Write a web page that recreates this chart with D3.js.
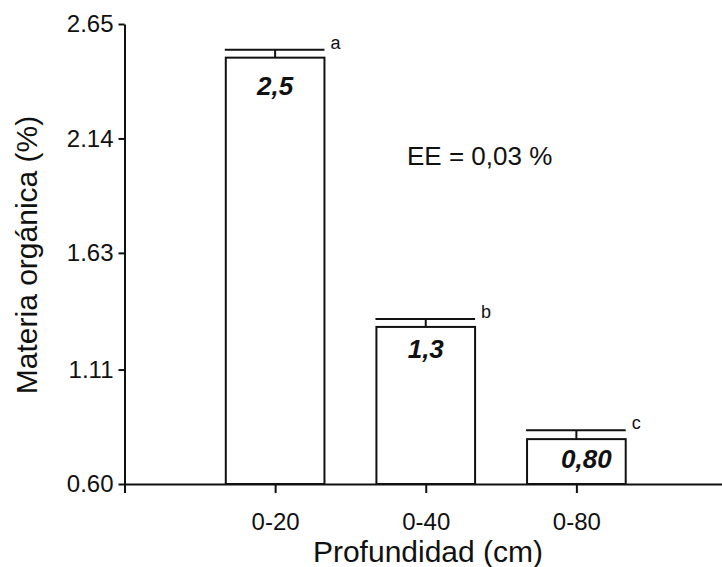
<!doctype html>
<html>
<head>
<meta charset="utf-8">
<script src="https://d3js.org/d3.v7.min.js"></script>
<style>
  body { margin: 0; background: #fff; }
  text { font-family: "Liberation Sans", Arial, sans-serif; fill: #111; }
</style>
</head>
<body>
<div id="chart"></div>
<script>
// data
var categories = ["0-20", "0-40", "0-80"];
var values = [2.5, 1.3, 0.80];
var errors = [0.035, 0.035, 0.04];
var valueLabels = ["2,5", "1,3", "0,80"];
var letters = ["a", "b", "c"];
var yTicks = [0.60, 1.11, 1.63, 2.14, 2.65];

var width = 722, height = 567;

var svg = d3.select("#chart").append("svg")
    .attr("width", width)
    .attr("height", height);

// x is a plain linear scale, categories sit at 1,2,3
var x = d3.scaleLinear().domain([0, 4]).range([124.5, 727]);
var y = d3.scaleLinear().domain([0.60, 2.65]).range([484, 24]);
var barW = x(0.655) - x(0);

// y axis
var yAxis = svg.append("g")
    .attr("transform", "translate(" + x(0) + ",0)")
    .call(d3.axisLeft(y).tickValues(yTicks).tickFormat(d3.format(".2f")).tickSize(6).tickSizeOuter(0));
yAxis.selectAll("text").style("font-size", "24px").attr("x", -11);

// x axis
var xAxis = svg.append("g")
    .attr("transform", "translate(0," + y(0.60) + ")")
    .call(d3.axisBottom(x).tickValues([0, 1, 2, 3])
      .tickFormat(function(d) { return d === 0 ? "" : categories[d - 1]; })
      .tickSize(9).tickSizeOuter(0));
xAxis.selectAll("text").style("font-size", "24px").attr("y", 29);

svg.selectAll(".domain, .tick line")
    .attr("stroke", "#111")
    .attr("stroke-width", 2);

// bars
var bars = svg.selectAll(".bar").data(values).enter().append("g");

bars.append("rect")
    .attr("x", function(d, i) { return x(i + 1) - barW / 2; })
    .attr("y", function(d) { return y(d); })
    .attr("width", barW)
    .attr("height", function(d) { return y(0.60) - y(d); })
    .attr("fill", "#fff")
    .attr("stroke", "#111")
    .attr("stroke-width", 2);

// error bars (upper whisker + cap as wide as the bar)
bars.append("line")
    .attr("x1", function(d, i) { return x(i + 1); })
    .attr("x2", function(d, i) { return x(i + 1); })
    .attr("y1", function(d) { return y(d); })
    .attr("y2", function(d, i) { return y(d + errors[i]); })
    .attr("stroke", "#111").attr("stroke-width", 2);

bars.append("line")
    .attr("x1", function(d, i) { return x(i + 1) - barW / 2 - 1; })
    .attr("x2", function(d, i) { return x(i + 1) + barW / 2; })
    .attr("y1", function(d, i) { return y(d + errors[i]); })
    .attr("y2", function(d, i) { return y(d + errors[i]); })
    .attr("stroke", "#111").attr("stroke-width", 2);

// letters
bars.append("text")
    .attr("x", function(d, i) { return x(i + 1) + barW / 2 + 6; })
    .attr("y", function(d, i) { return y(d + errors[i]) - 1; })
    .style("font-size", "18px")
    .text(function(d, i) { return letters[i]; });

// value labels inside the bars
bars.append("text")
    .attr("x", function(d, i) { return x(i + 1) + (i === 2 ? 10 : 0); })
    .attr("y", function(d, i) { return Math.min(y(d) + (i === 0 ? 37 : 31), y(0.60) - 16); })
    .attr("text-anchor", "middle")
    .style("font-size", "26px")
    .style("font-weight", "bold")
    .style("font-style", "italic")
    .text(function(d, i) { return valueLabels[i]; });

// annotation
svg.append("text")
    .attr("x", 407).attr("y", 165)
    .style("font-size", "26px")
    .text("EE = 0,03 %");

// axis titles
svg.append("text")
    .attr("transform", "translate(37,255) rotate(-90)")
    .attr("text-anchor", "middle")
    .style("font-size", "30px")
    .text("Materia orgánica (%)");

svg.append("text")
    .attr("x", 428).attr("y", 562)
    .attr("text-anchor", "middle")
    .style("font-size", "30px")
    .text("Profundidad (cm)");
</script>
</body>
</html>
